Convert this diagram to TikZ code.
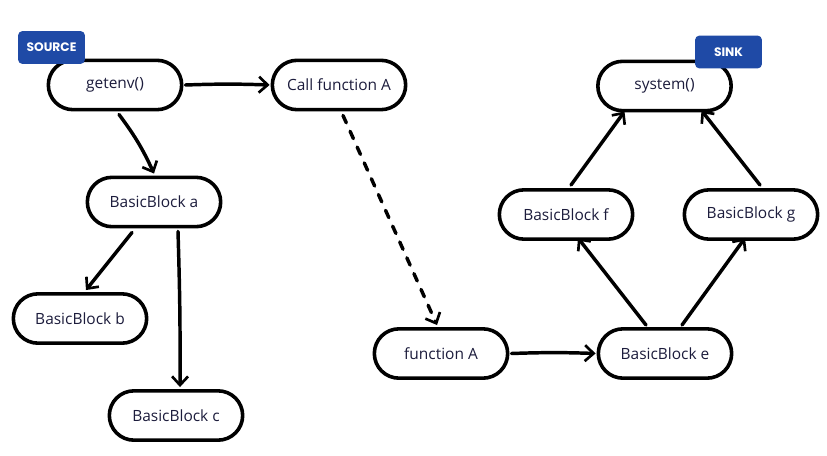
\documentclass[tikz,border=0pt]{standalone}
\usepackage{fontspec}
\newfontfamily\nodefont{Open Sans}
\newfontfamily\badgefont{Poppins}
\usetikzlibrary{arrows.meta,shapes.misc,calc}
\definecolor{badgeblue}{HTML}{1F4AA6}
\definecolor{txt}{HTML}{1C1C3C}
\tikzset{
  blk/.style={draw=black, line width=2.7pt, rounded rectangle, minimum width=100pt, minimum height=37pt, inner sep=0pt, fill=white, text=txt, font=\nodefont\fontsize{11.6}{13}\selectfont},
  badge/.style={fill=badgeblue, rounded corners=3pt, minimum width=50pt, minimum height=24.5pt, inner sep=0pt, text=white, font=\badgefont\bfseries\fontsize{9.2}{10}\selectfont},
  conn/.style={line width=2.6pt, line cap=round, -{Straight Barb[length=6.5pt,width=12pt,line width=2pt]}},
  dconn/.style={conn, dash pattern=on 6pt off 7pt}
}
\begin{document}
\begin{tikzpicture}[x=0.75pt,y=-0.75pt]
\useasboundingbox (0,0) rectangle (827,456);
\node[blk] (getenv) at (115,85) {getenv()};
\node[blk] (callA) at (339,85) {Call function A};
\node[blk] (bba) at (154,202) {BasicBlock a};
\node[blk] (bbb) at (80,318.5) {BasicBlock b};
\node[blk] (bbc) at (176,415.5) {BasicBlock c};
\node[blk] (funA) at (441,353.5) {function A};
\node[blk] (bbe) at (665,353.5) {BasicBlock e};
\node[blk] (bbf) at (566,214.5) {BasicBlock f};
\node[blk] (bbg) at (751,214.5) {BasicBlock g};
\node[blk] (sys) at (664.5,86) {system()};
\node[badge] (src) at (51.5,47.5) {SOURCE};
\node[badge] (sink) at (728.5,52) {SINK};

\draw[conn] ($(getenv.east)+(2,0)$) to[bend left=2] ($(callA.west)+(-1,0)$);
\draw[conn] ($(getenv.south)+(4,3)$) to[bend left=6] ($(bba.north)+(0,-2)$);
\draw[conn] ($(bba.south)+(-22,4)$) -- ($(bbb.north)+(6,-2)$);
\draw[conn] ($(bba.south)+(24,3)$) to[bend left=1] ($(bbc.north)+(4,-2)$);
\draw[dconn] ($(callA.south)+(4,4)$) -- ($(funA.north)+(-4,-2)$);
\draw[conn] ($(funA.east)+(2,0)$) to[bend left=2] ($(bbe.west)+(-1,0)$);
\draw[conn] ($(bbe.north)+(-19,-2)$) -- ($(bbf.south)+(12,-3)$);
\draw[conn] ($(bbe.north)+(17,-2)$) -- ($(bbg.south)+(-6,-3)$);
\draw[conn] ($(bbf.north)+(5,-3)$) -- ($(sys.south)+(-40,-1)$);
\draw[conn] ($(bbg.north)+(9,-3)$) -- ($(sys.south)+(37,-2)$);
\end{tikzpicture}
\end{document}
